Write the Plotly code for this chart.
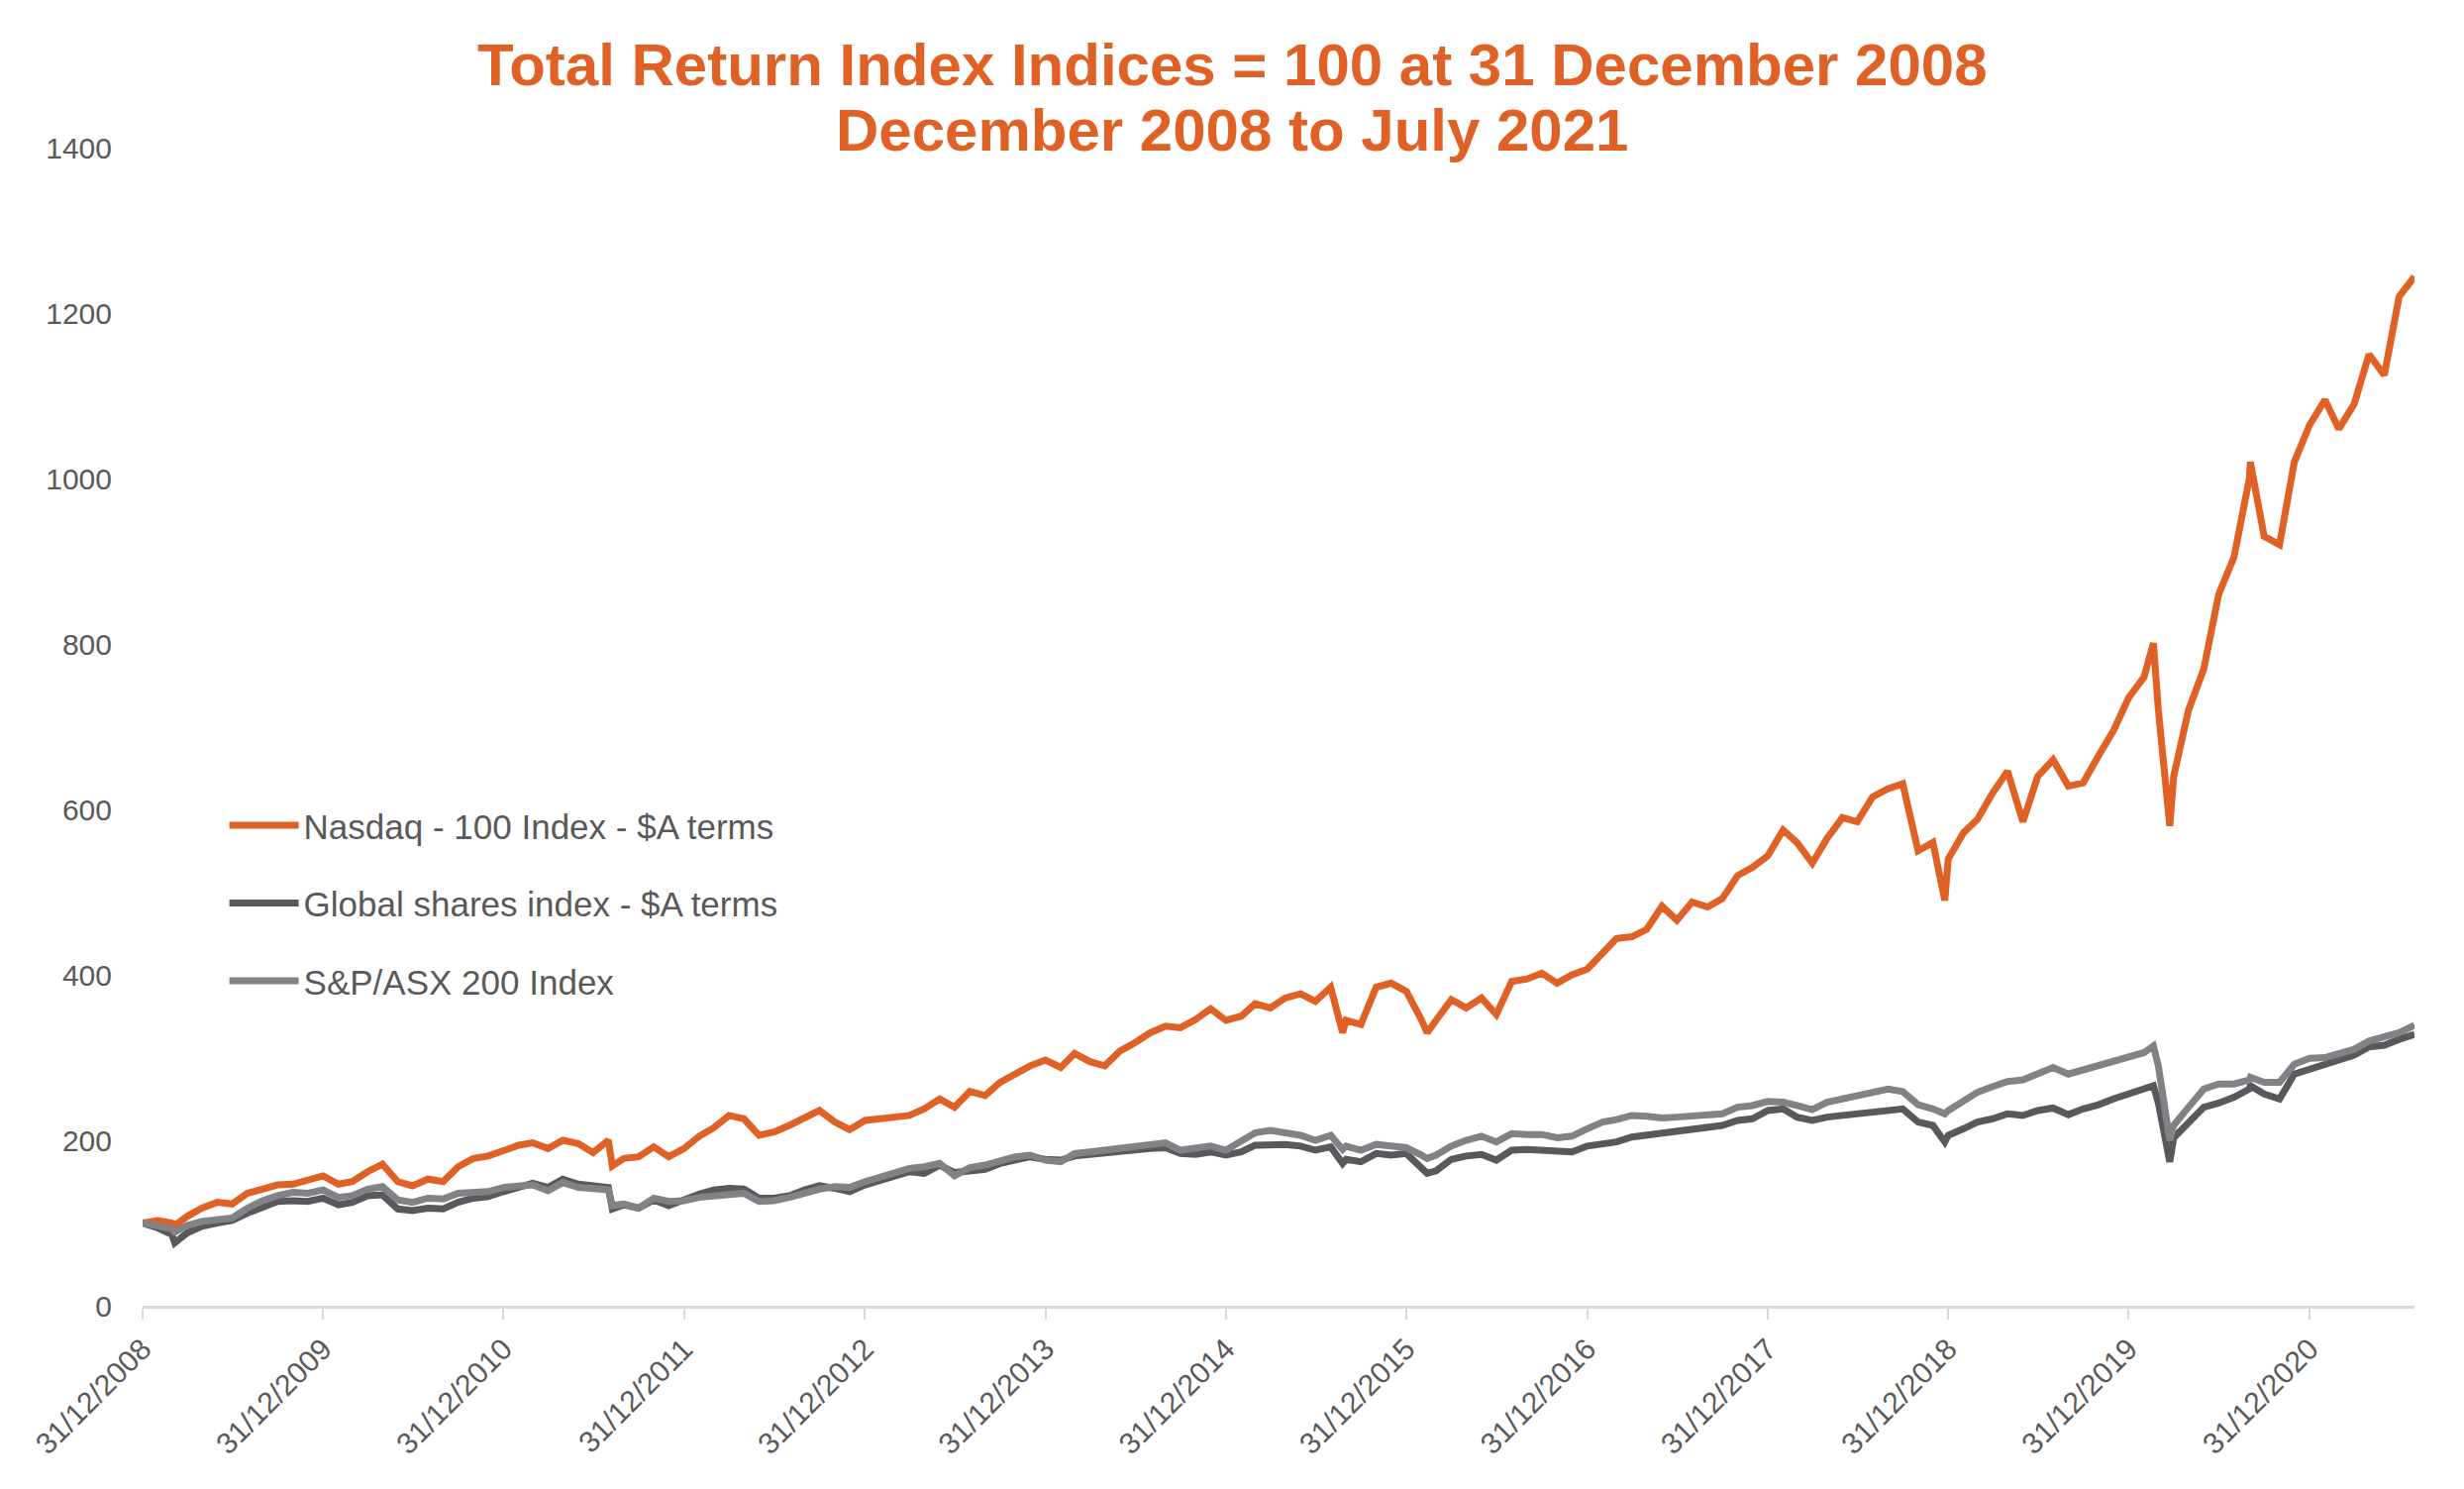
import pandas as pd
import plotly.graph_objects as go

# ---- data ----
series_names = ["Nasdaq - 100 Index - $A terms", "Global shares index - $A terms", "S&P/ASX 200 Index"]

# month-end values, Dec 2008 .. Jul 2021 (152 months)
nasdaq_monthly = [
    100, 103, 100, 108, 118, 125, 123, 136, 141, 146, 147, 152,
    157, 147, 150, 162, 171, 150, 145, 153, 150, 168, 178, 181,
    188, 194, 197, 190, 200, 196, 185, 200, 178, 180, 192, 180,
    190, 205, 215, 230, 226, 206, 210, 218, 228, 236, 222, 213,
    224, 226, 226, 230, 238, 250, 240, 259, 254, 270, 280, 290,
    297, 288, 305, 295, 290, 308, 318, 330, 338, 336, 346, 359,
    345, 350, 365, 360, 372, 377, 368, 385, 345, 340, 385, 390,
    380, 345, 345, 370, 360, 372, 352, 392, 395, 402, 390, 400,
    407, 428, 444, 446, 455, 483, 466, 488, 482, 492, 520, 530,
    544, 575, 560, 535, 565, 590, 585, 615, 625, 631, 550, 560,
    540, 572, 588, 620, 646, 585, 640, 660, 628, 632, 665, 695,
    735, 760, 720, 640, 720, 770, 860, 905, 1000, 930, 920, 1020,
    1065, 1095, 1060, 1090, 1150, 1125, 1220, 1244,
]
global_monthly = [
    100, 94, 86, 88, 96, 100, 103, 112, 120, 126, 127, 126,
    130, 122, 125, 133, 134, 117, 115, 118, 117, 125, 130, 132,
    138, 143, 148, 143, 153, 147, 145, 143, 122, 118, 128, 121,
    129, 135, 140, 142, 141, 130, 130, 133, 140, 145, 142, 138,
    146, 152, 157, 162, 160, 170, 161, 163, 165, 172, 177, 180,
    177, 176, 181, 183, 186, 188, 190, 190, 191, 184, 183, 186,
    182, 186, 194, 195, 195, 193, 188, 192, 177, 174, 184, 182,
    184, 166, 163, 177, 181, 183, 176, 188, 189, 188, 185, 186,
    193, 195, 198, 204, 206, 208, 210, 212, 215, 218, 224, 226,
    236, 238, 228, 224, 228, 230, 232, 234, 237, 238, 222, 218,
    206, 214, 222, 226, 232, 230, 236, 239, 231, 238, 243, 250,
    256, 262, 245, 203, 220, 240, 245, 252, 262, 256, 250, 280,
    286, 292, 298, 303, 313, 315, 322, 328,
]
asx_monthly = [
    100, 96, 93, 97, 102, 103, 106, 118, 127, 133, 137, 136,
    140, 131, 133, 141, 144, 128, 125, 130, 129, 136, 138, 138,
    143, 145, 146, 139, 149, 143, 142, 140, 123, 118, 130, 126,
    127, 131, 133, 135, 136, 126, 127, 131, 137, 141, 144, 143,
    150, 156, 161, 166, 168, 172, 157, 167, 170, 175, 180, 182,
    176, 174, 184, 186, 188, 190, 192, 195, 197, 188, 190, 193,
    188, 200, 209, 212, 210, 206, 200, 206, 193, 188, 195, 193,
    191, 182, 182, 193, 200, 205, 198, 208, 207, 207, 203, 205,
    214, 222, 225, 230, 229, 227, 228, 229, 229, 232, 240, 242,
    247, 246, 242, 237, 246, 250, 255, 259, 262, 259, 243, 238,
    236, 248, 258, 265, 271, 273, 281, 288, 280, 285, 290, 296,
    300, 306, 290, 218, 240, 262, 268, 268, 273, 270, 270, 292,
    299, 300, 304, 310, 320, 324, 330, 339,
]

# intra-month extremes visible in the chart
event_dates = ["2009-03-06", "2011-08-08", "2015-08-24", "2016-02-11",
               "2018-12-24", "2020-02-19", "2020-03-23", "2020-09-02"]
nasdaq_events = [97, 169, 330, 330, 490, 801, 580, 1020]
global_events = [76, 117, 172, 160, 198, 266, 174, 266]
asx_events = [89, 121, 189, 178, 232, 314, 200, 276]

tick_dates = ["2008-12-31", "2009-12-31", "2010-12-31", "2011-12-31", "2012-12-31",
              "2013-12-31", "2014-12-31", "2015-12-31", "2016-12-31", "2017-12-31",
              "2018-12-31", "2019-12-31", "2020-12-31"]
tick_labels = ["31/12/2008", "31/12/2009", "31/12/2010", "31/12/2011", "31/12/2012",
               "31/12/2013", "31/12/2014", "31/12/2015", "31/12/2016", "31/12/2017",
               "31/12/2018", "31/12/2019", "31/12/2020"]

title_lines = ["Total Return Index Indices = 100 at 31 December 2008",
               "December 2008 to July 2021"]

# ---- assemble ----
month_ends = pd.date_range("2008-12-31", periods=len(nasdaq_monthly), freq=pd.offsets.MonthEnd())
df = pd.concat([
    pd.DataFrame({"date": month_ends, "nasdaq": nasdaq_monthly,
                  "global": global_monthly, "asx": asx_monthly}),
    pd.DataFrame({"date": pd.to_datetime(event_dates), "nasdaq": nasdaq_events,
                  "global": global_events, "asx": asx_events}),
]).sort_values("date")

ORANGE = "#E06125"
DARK = "#58595B"
LIGHT = "#808286"
TEXT = "#595959"
FONT = "Liberation Sans, Arial, sans-serif"

fig = go.Figure()
for col, name, color in [("nasdaq", series_names[0], ORANGE),
                         ("global", series_names[1], DARK),
                         ("asx", series_names[2], LIGHT)]:
    fig.add_trace(go.Scatter(x=df["date"], y=df[col], mode="lines", name=name,
                             legendgroup=col,
                             line=dict(color=color, width=7)))

# page has an 8px body margin: figure sits at (8, 8)
W, H = 2480, 1495
ML, MT, MR, MB = 136, 141, 50, 185
plot_h = H - MT - MB

fig.update_layout(
    width=W, height=H,
    margin=dict(l=ML, r=MR, t=MT, b=MB),
    paper_bgcolor="white", plot_bgcolor="white",
    font=dict(family=FONT, color=TEXT, size=30),
    showlegend=True,
    legend=dict(x=0.036, y=0.44, xanchor="left", yanchor="top",
                font=dict(size=35, color=TEXT, family=FONT),
                bgcolor="rgba(0,0,0,0)", tracegroupgap=30, itemwidth=70),
)
fig.update_xaxes(
    type="date", range=["2008-12-31", "2021-07-31"],
    tickvals=tick_dates, ticktext=tick_labels, tickangle=-45,
    tickfont=dict(size=30, color=TEXT, family=FONT),
    showgrid=False, zeroline=False,
    showline=True, linecolor="#D9D9D9", linewidth=3,
    ticks="outside", ticklen=11, tickwidth=2, tickcolor="#D9D9D9",
)
fig.update_yaxes(
    range=[0, 1400], dtick=200, tick0=0,
    tickfont=dict(size=30, color=TEXT, family=FONT),
    showgrid=False, zeroline=False, showline=False, ticks="",
    ticklabelstandoff=30,
)
# title lines centred on the page; y given as page pixel of text centre
for txt, ypx in zip(title_lines, [66, 131]):
    fig.add_annotation(text="<b>" + txt + "</b>", xref="paper", yref="paper",
                       x=(1244 - 8 - ML) / (W - ML - MR),
                       y=(1318 - ypx) / plot_h, xanchor="center", yanchor="middle",
                       showarrow=False, font=dict(size=60, color=ORANGE, family=FONT))

fig.write_html("out.html")
